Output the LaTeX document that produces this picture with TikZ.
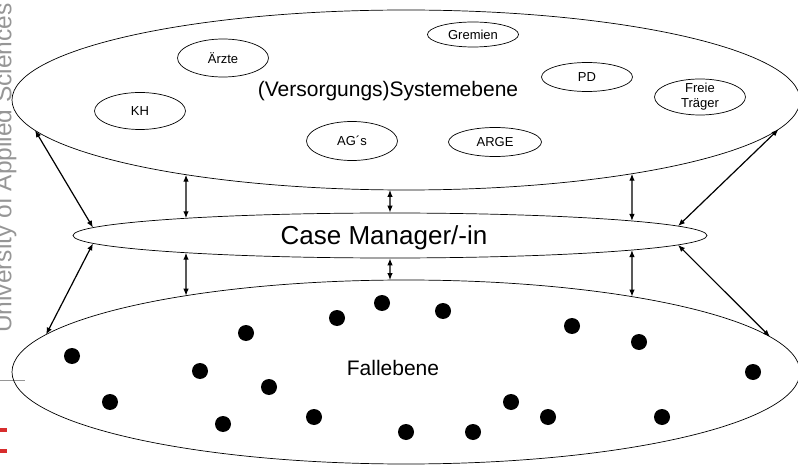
\documentclass[tikz,border=0pt]{standalone}
\usepackage{fontspec}
\setmainfont{Liberation Sans}
\usetikzlibrary{shapes.geometric,arrows.meta}
\definecolor{logogray}{RGB}{150,150,150}
\definecolor{logored}{RGB}{215,45,45}
\begin{document}
\begin{tikzpicture}[x=1pt,y=-1pt,
		ebene/.style={ellipse,draw,line width=0.7pt,inner sep=0pt},
		akteur/.style={ellipse,draw,line width=0.7pt,inner sep=0pt,minimum width=91pt,font=\fontsize{13}{15}\selectfont,align=center},
		pfeil/.style={<->,>={Latex[length=7pt,width=5.5pt]},line width=1.2pt}]
			\useasboundingbox (0,0) rectangle (798,465);
			% Randlogo
			\node[logogray,rotate=90,anchor=base west,inner sep=0pt,font=\fontsize{24.5}{29}\selectfont] (hs) at (11.5,333) {University of Applied Sciences};
			\draw[logogray,line width=1pt] (0,380)--(25,380);
			\fill[logored] (0,428) rectangle (7,432);
			\fill[logored] (0,449) rectangle (7,453);
	
			% Ebenen
			\node[ebene,minimum width=788pt,minimum height=180pt] (sys) at (406,100) {};
			\node[ebene,minimum width=634pt,minimum height=45pt] (cm) at (390,235.5) {};
			\node[ebene,minimum width=788pt,minimum height=184pt] (fall) at (406,372) {};
			\node[anchor=base,font=\fontsize{21}{25}\selectfont] (systxt) at (388,97) {(Versorgungs)Systemebene};
			\node[anchor=base,font=\fontsize{26}{31}\selectfont] (cmtxt) at (384,244) {Case Manager/-in};
			\node[anchor=base,font=\fontsize{21}{25}\selectfont] (falltxt) at (393,375) {Fallebene};
	
			% Akteure
			\node[akteur,minimum height=38pt] (AE) at (223,58) {Ärzte};
			\node[akteur,minimum height=37pt] (KH) at (140,111) {KH};
			\node[akteur,minimum height=39pt] (AG) at (352,141) {AG´s};
			\node[akteur,minimum height=25pt] (GR) at (473,34.5) {Gremien};
			\node[akteur,minimum height=29pt] (PD) at (587,77) {PD};
			\node[akteur,minimum height=36pt,inner sep=-2pt] (FT) at (700,97) {Freie\\Träger};
			\node[akteur,minimum height=29pt,minimum width=93pt] (AR) at (495,142) {ARGE};
	
			% Faelle
			\foreach \px/\py in {72/356,110/402,200/371,223/424,246/333,269/387,314/417,337/318,382/303,443/311,406/432,473/432,511/402,548/417,572/326,639/342,662/417,753/372}
				\fill (\px,\py) circle (8pt);
	
			% Pfeile (Punkte auf den Ellipsenraendern)
			\draw[pfeil] ([shift={(sys.center)}]236.06:394pt and 90pt)--([shift={(cm.center)}]130.06:317pt and 22.5pt);
			\draw[pfeil] ([shift={(sys.center)}]267.67:394pt and 90pt)--(cm.north);
			\draw[pfeil] ([shift={(sys.center)}]305:394pt and 90pt)--([shift={(cm.center)}]40.24:317pt and 22.5pt);
			\draw[pfeil] ([shift={(cm.center)}]229.94:317pt and 22.5pt)--([shift={(fall.center)}]123.94:394pt and 92pt);
			\draw[pfeil] (cm.south)--([shift={(fall.center)}]92.33:394pt and 92pt);
			\draw[pfeil] ([shift={(cm.center)}]319.76:317pt and 22.5pt)--([shift={(fall.center)}]55:394pt and 92pt);
			\draw[pfeil] ([shift={(sys.center)}]199.68:394pt and 90pt)--([shift={(cm.center)}]159.54:317pt and 22.5pt);
			\draw[pfeil] ([shift={(sys.center)}]341:394pt and 90pt)--([shift={(cm.center)}]24.7:317pt and 22.5pt);
			\draw[pfeil] ([shift={(cm.center)}]200.46:317pt and 22.5pt)--([shift={(fall.center)}]156:394pt and 92pt);
			\draw[pfeil] ([shift={(cm.center)}]335.3:317pt and 22.5pt)--([shift={(fall.center)}]22.5:394pt and 92pt);
		\end{tikzpicture}
\end{document}
